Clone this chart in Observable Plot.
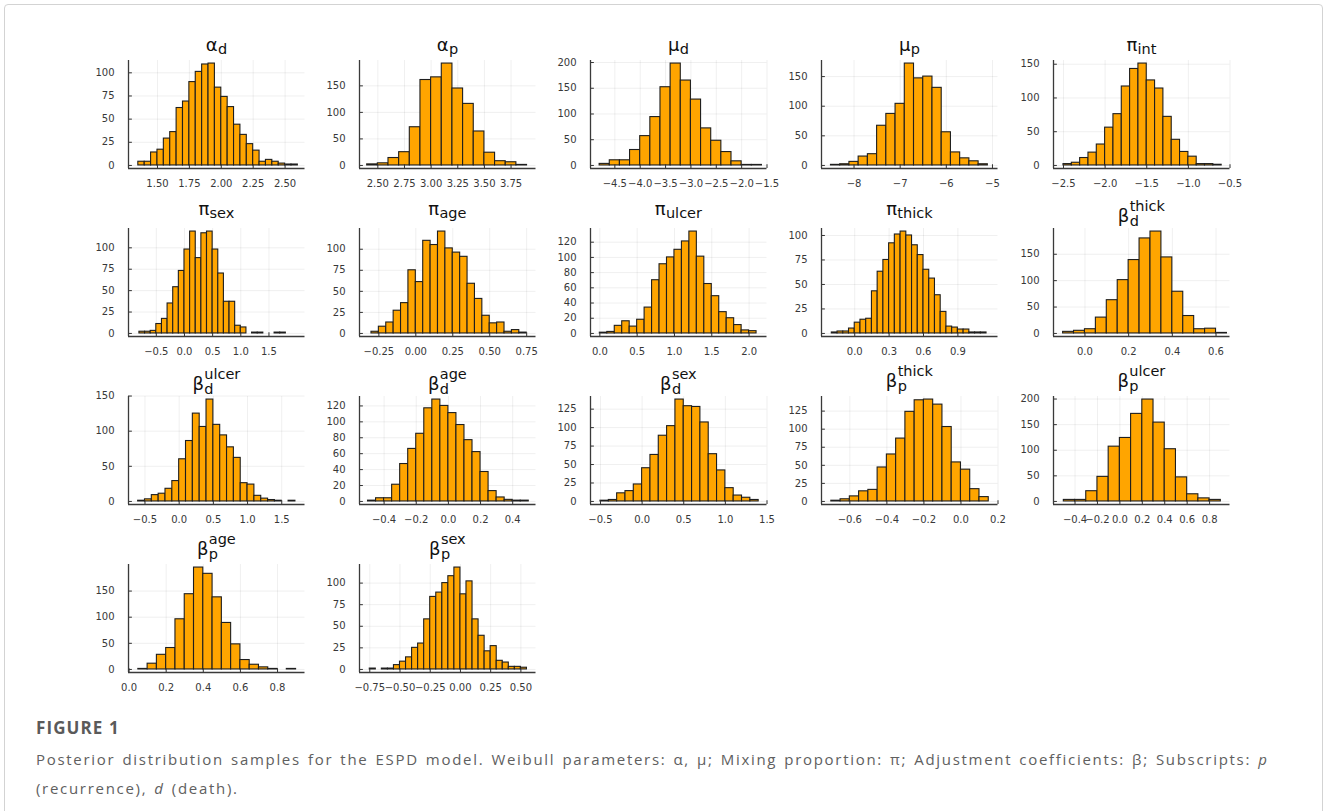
<!DOCTYPE html>
<html><head><meta charset="utf-8">
<script src="https://cdn.jsdelivr.net/npm/d3@7"></script>
<script src="https://cdn.jsdelivr.net/npm/@observablehq/plot@0.6"></script>
<style>
html,body{margin:0;padding:0;background:#fff;}
body{width:1328px;height:811px;overflow:hidden;position:relative;font-family:"DejaVu Sans",sans-serif;}
#border{position:absolute;left:4px;top:4px;width:1319px;height:900px;border:1px solid #d3d3d3;border-radius:4px;box-sizing:border-box;}
.panel{position:absolute;}
#figlabel{position:absolute;left:36px;top:719px;font-family:"Open Sans",sans-serif;font-weight:700;font-size:17px;line-height:17px;letter-spacing:1.1px;color:#5a5a5a;}
#caption{position:absolute;left:36px;top:744.5px;width:1280px;font-family:"Open Sans",sans-serif;font-size:15px;line-height:29px;letter-spacing:1.7px;word-spacing:1.5px;color:#606060;white-space:nowrap;}
</style></head><body>
<div id="border"></div>
<div id="charts"></div>
<div id="figlabel">FIGURE 1</div>
<div id="caption">Posterior distribution samples for the ESPD model. Weibull parameters: α, μ; Mixing proportion: π; Adjustment coefficients: β; Subscripts: <i>p</i><br>(recurrence), <i>d</i> (death).</div>
<script>
// ---- titles ----
const titleBase = ["α","α","μ","μ","π","π","π","π","π","β","β","β","β","β","β","β","β"];
const titleSub  = ["d","p","d","p","int","sex","age","ulcer","thick","d","d","d","d","p","p","p","p"];
const titleSup  = ["","","","","","","","","","thick","ulcer","age","sex","thick","ulcer","age","sex"];

// ---- histogram bins: first edge and width of each panel ----
const binStart = [1.35, 2.4, -4.8, -8.5, -2.5, -0.8, -0.30, 0.0, -0.20, -0.10, -0.6, -0.50, -0.5, -0.70, -0.5, 0.05, -0.75];
const binWidth = [0.05, 0.1, 0.2, 0.2, 0.1, 0.1, 0.05, 0.1, 0.05, 0.05, 0.1, 0.05, 0.1, 0.05, 0.1, 0.05, 0.05];

// ---- counts per bin ----
const cAlphaD   = [4,4,14,17,29,36,62,69,90,101,109,110,84,74,63,44,33,23,16,4,6,4,2,1,1];
const cAlphaP   = [2,4,14,25,72,161,166,192,145,116,64,24,8,6,1];
const cMuD      = [3,10,10,30,57,94,152,198,165,128,72,48,26,8,1,1];
const cMuP      = [1,2,6,15,19,67,87,104,172,147,150,131,56,22,12,7,2];
const cPiInt    = [2,4,11,19,31,56,76,117,143,151,126,114,72,38,20,13,2,2,1];
const cPiSex    = [2,2,3,11,17,35,54,73,98,119,88,117,119,98,70,37,37,9,7,0,1,1,0,0,1,1];
const cPiAge    = [2,8,13,27,36,75,61,110,105,121,101,96,91,59,41,21,12,13,2,4,1];
const cPiUlcer  = [1,2,10,16,9,18,34,70,91,100,110,121,134,101,65,49,28,20,11,4,3];
const cPiThick  = [1,2,2,5,11,14,15,43,63,75,92,101,104,100,90,80,65,56,39,22,7,6,4,4,1,1,1];
const cBdThick  = [3,5,8,30,63,101,139,180,193,144,79,33,8,9,1];
const cBdUlcer  = [1,3,9,11,18,29,60,86,125,106,145,109,94,77,62,26,24,8,4,2,1,0,1];
const cBdAge    = [1,4,4,21,47,66,85,117,128,120,111,96,77,62,37,13,5,2,1,1];
const cBdSex    = [1,2,11,14,23,45,63,89,102,138,129,128,107,64,42,18,8,5,2];
const cBpThick  = [1,3,7,14,16,47,65,87,124,140,141,134,103,54,44,17,6];
const cBpUlcer  = [3,3,20,48,107,124,171,199,154,102,47,14,6,3];
const cBpAge    = [1,11,28,41,96,144,195,183,138,89,48,18,9,4,1,0,1];
const cBpSex    = [1,0,1,1,5,9,14,25,30,58,84,89,100,108,118,87,102,58,39,21,27,10,8,3,3,2];
const countsList = [cAlphaD,cAlphaP,cMuD,cMuP,cPiInt,cPiSex,cPiAge,cPiUlcer,cPiThick,cBdThick,cBdUlcer,cBdAge,cBdSex,cBpThick,cBpUlcer,cBpAge,cBpSex];

// ---- x extents of each panel ----
const xDomains = [[1.273,2.656],[2.328,3.984],[-4.98,-1.5],[-8.705,-4.88],[-2.62,-0.5],[-0.994,2.14],[-0.381,0.813],[-0.125,2.24],[-0.29,1.25],[-0.144,0.664],[-0.741,1.84],[-0.553,0.545],[-0.62,1.5],[-0.753,0.2],[-0.592,0.982],[-0.003,0.948],[-0.835,0.625]];

// ---- tick labels ----
const xTickLabels = [
  ["1.50","1.75","2.00","2.25","2.50"],
  ["2.50","2.75","3.00","3.25","3.50","3.75"],
  ["−4.5","−4.0","−3.5","−3.0","−2.5","−2.0","−1.5"],
  ["−8","−7","−6","−5"],
  ["−2.5","−2.0","−1.5","−1.0","−0.5"],
  ["−0.5","0.0","0.5","1.0","1.5"],
  ["−0.25","0.00","0.25","0.50","0.75"],
  ["0.0","0.5","1.0","1.5","2.0"],
  ["0.0","0.3","0.6","0.9"],
  ["0.0","0.2","0.4","0.6"],
  ["−0.5","0.0","0.5","1.0","1.5"],
  ["−0.4","−0.2","0.0","0.2","0.4"],
  ["−0.5","0.0","0.5","1.0","1.5"],
  ["−0.6","−0.4","−0.2","0.0","0.2"],
  ["−0.4","−0.2","0.0","0.2","0.4","0.6","0.8"],
  ["0.0","0.2","0.4","0.6","0.8"],
  ["−0.75","−0.50","−0.25","0.00","0.25","0.50"]
];
const yTickLabels = [
  [0,25,50,75,100],[0,50,100,150],[0,50,100,150,200],[0,50,100,150],[0,50,100,150],
  [0,25,50,75,100],[0,25,50,75,100],[0,20,40,60,80,100,120],[0,25,50,75,100],[0,50,100,150],
  [0,50,100,150],[0,20,40,60,80,100,120],[0,25,50,75,100,125],[0,25,50,75,100,125],[0,50,100,150,200],
  [0,50,100,150],[0,25,50,75,100]
];

// ---- layout ----
const FW = 176.5, FH = 108, ML = 45, MR = 22, MT = 40, MB = 30;
const toNum = s => +s.replace("−", "-");
const host = document.getElementById("charts");
const BASE = 18, SCRIPT = 14.5;

countsList.forEach((counts, i) => {
  const bins = counts.map((n, k) => ({
    x1: +(binStart[i] + k * binWidth[i]).toFixed(4),
    x2: +(binStart[i] + (k + 1) * binWidth[i]).toFixed(4),
    n
  })).filter(d => d.n > 0);
  const ymax = d3.max(counts);
  const yDom = [-0.03 * ymax, 1.03 * ymax];
  const xDom = xDomains[i];
  const xt = xTickLabels[i].map(toNum);
  const lab = new Map(xt.map((v, j) => [v, xTickLabels[i][j]]));
  const yt = yTickLabels[i];
  const col = i % 5, row = Math.floor(i / 5);
  const fl = 127.5 + 231.3 * col, ft = 60 + 168 * row;

  const chart = Plot.plot({
    width: ML + FW + MR, height: MT + FH + MB,
    marginLeft: ML, marginRight: MR, marginTop: MT, marginBottom: MB,
    style: {background: "transparent", overflow: "visible", fontFamily: "DejaVu Sans", fontSize: "10px", color: "#383838", maxWidth: "none"},
    x: {domain: xDom, label: null},
    y: {domain: yDom, label: null},
    marks: [
      Plot.gridX(xt, {stroke: "#000", strokeOpacity: 0.09, strokeWidth: 0.7}),
      Plot.gridY(yt, {stroke: "#000", strokeOpacity: 0.09, strokeWidth: 0.7}),
      Plot.rectY(bins, {x1: "x1", x2: "x2", y: "n", fill: "#FFA500", stroke: "#1e1e1e", strokeWidth: 1.1, inset: 0}),
      Plot.ruleX(xt, {y1: yDom[0], y2: yDom[0] + 0.035 * (yDom[1] - yDom[0]), stroke: "#333", strokeWidth: 1}),
      Plot.ruleY(yt, {x1: xDom[0], x2: xDom[0] + 0.022 * (xDom[1] - xDom[0]), stroke: "#333", strokeWidth: 1}),
      Plot.ruleX([xDom[0]], {stroke: "#3a3a3a", strokeWidth: 1.3}),
      Plot.ruleY([yDom[0]], {stroke: "#3a3a3a", strokeWidth: 1.3}),
      Plot.axisX(xt, {tickSize: 0, tickPadding: 11, tickFormat: v => lab.get(v), label: null}),
      Plot.axisY(yt, {tickSize: 0, tickPadding: 14, tickFormat: d => String(d), label: null})
    ]
  });

  const div = document.createElement("div");
  div.className = "panel";
  div.style.left = (fl - ML) + "px";
  div.style.top = (ft - MT) + "px";
  div.appendChild(chart);
  host.appendChild(div);

  // title with sub/superscripts, measured in the live DOM
  const svg = d3.select(chart);
  const base = titleBase[i], sub = titleSub[i], sup = titleSup[i];
  let yb, ysub, ysup;
  if (sup) {
    const up = sub === "p" ? 3 : 0;
    yb = MT - 6.5 - up; ysub = MT - 2 - up; ysup = MT - 17 - up;
  } else {
    yb = MT - (row === 1 ? 13.5 : 9); ysub = yb + 3.2;
  }
  const g = svg.append("g").attr("text-anchor", "start").style("font-family", "'DejaVu Sans'").attr("fill", "#111");
  const tb = g.append("text").attr("text-anchor", "start").attr("y", yb).style("font-size", BASE + "px").text(base);
  const tsub = g.append("text").attr("text-anchor", "start").attr("y", ysub).style("font-size", SCRIPT + "px").text(sub);
  const tsup = sup ? g.append("text").attr("text-anchor", "start").attr("y", ysup).style("font-size", SCRIPT + "px").text(sup) : null;
  const wb = tb.node().getComputedTextLength();
  const ws = Math.max(tsub.node().getComputedTextLength(), tsup ? tsup.node().getComputedTextLength() : 0);
  const x0 = ML + FW / 2 - (wb + ws) / 2;
  tb.attr("x", x0);
  tsub.attr("x", x0 + wb + 0.3);
  if (tsup) tsup.attr("x", x0 + wb + 0.3);
});
</script>
</body></html>
